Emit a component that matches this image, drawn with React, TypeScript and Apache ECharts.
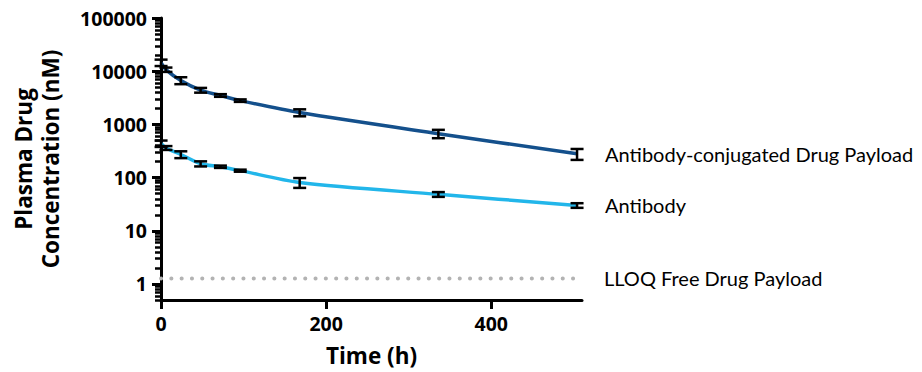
import React, { useEffect, useRef } from "react";
import * as echarts from "echarts";

// ---- data ----
const timeHours = [0.083, 6, 24, 48, 72, 96, 168, 336, 504];
const adcMean = [14500, 10700, 6700, 4400, 3500, 2800, 1670, 670, 280];
const adcSd = [2000, 1000, 1000, 450, 200, 150, 250, 120, 65];
const abMean = [437, 361, 272, 182, 160, 135, 81, 48.4, 30];
const abSd = [60, 30, 40, 20, 8, 6, 17, 5, 3];
const lloqValue = 1.27;

const seriesNames = ["Antibody-conjugated Drug Payload", "Antibody", "LLOQ Free Drug Payload"];
const xTickValues = [0, 200, 400];
const xRange = [0, 510];
const yMajorTicks = [1, 10, 100, 1000, 10000, 100000];
const yMinorMultipliers = [2, 3, 4, 5, 6, 7, 8, 9];
const yLowEndTicks = [0.5, 0.6, 0.7, 0.8, 0.9];
const yRange = [0.5, 100000];

const colors = { adc: "#14508c", ab: "#22b6ea", lloq: "#b3b3b3", axis: "#000000" };
const FONT = "Lato, 'Open Sans', sans-serif";
const BOLD_FONT = "'Open Sans', Lato, sans-serif";

const lg = (v: number) => Math.log10(v);

export default function App() {
  const ref = useRef<HTMLDivElement>(null);

  useEffect(() => {
    document.body.style.margin = "0";
    if (!ref.current) return;
    const chart = echarts.init(ref.current, undefined, { renderer: "svg" });

    const minorTicks: number[] = [...yLowEndTicks];
    yMajorTicks.slice(0, -1).forEach((d) => yMinorMultipliers.forEach((m) => minorTicks.push(d * m)));

    const lineData = (means: number[]) => timeHours.map((t, i) => [t, lg(means[i])]);
    const errData = (means: number[], sds: number[]) =>
      timeHours.map((t, i) => [t, lg(means[i] - sds[i]), lg(means[i] + sds[i])]);

    const errRender = (params: any, api: any) => {
      const x = api.value(0);
      const lo = api.coord([x, api.value(1)]);
      const hi = api.coord([x, api.value(2)]);
      const w = 6.5;
      const style = { stroke: "#000", lineWidth: 2.5, fill: "none" };
      return {
        type: "group",
        children: [
          { type: "line", shape: { x1: lo[0], y1: lo[1], x2: hi[0], y2: hi[1] }, style },
          { type: "line", shape: { x1: hi[0] - w, y1: hi[1], x2: hi[0] + w, y2: hi[1] }, style },
          { type: "line", shape: { x1: lo[0] - w, y1: lo[1], x2: lo[0] + w, y2: lo[1] }, style },
        ],
      };
    };

    const endLabel = (distance: number) => ({
      show: true,
      formatter: "{a}",
      distance,
      color: "#000",
      fontSize: 20,
      fontFamily: FONT,
      align: "left",
      verticalAlign: "middle",
    });

    const tickTextStyle = { color: "#000", fontSize: 19.5, fontWeight: "bold" as const, fontFamily: BOLD_FONT };
    const nameTextStyle = { color: "#000", fontSize: 22.5, fontWeight: "bold" as const, fontFamily: BOLD_FONT };

    chart.setOption({
      animation: false,
      grid: { left: 161, right: 340, top: 18, bottom: 71, containLabel: false },
      xAxis: {
        type: "value",
        min: xRange[0],
        max: xRange[1],
        name: "Time (h)",
        nameLocation: "middle",
        nameGap: 44,
        nameTextStyle: nameTextStyle,
        axisLine: { show: true, onZero: false, lineStyle: { color: colors.axis, width: 3 } },
        axisTick: { show: true, length: 9, customValues: xTickValues, lineStyle: { color: colors.axis, width: 3 } },
        axisLabel: { ...tickTextStyle, margin: 13, customValues: xTickValues },
        splitLine: { show: false },
      },
      yAxis: [
        {
          type: "value",
          min: lg(yRange[0]),
          max: lg(yRange[1]),
          name: "Plasma Drug\nConcentration (nM)",
          nameLocation: "middle",
          nameGap: 97,
          nameRotate: 90,
          nameTextStyle: { ...nameTextStyle, lineHeight: 27 },
          axisLine: { show: true, onZero: false, lineStyle: { color: colors.axis, width: 3 } },
          axisTick: {
            show: true,
            length: 9,
            customValues: yMajorTicks.map(lg),
            lineStyle: { color: colors.axis, width: 3 },
          },
          axisLabel: {
            ...tickTextStyle,
            margin: 14,
            customValues: yMajorTicks.map(lg),
            formatter: (v: number) => String(Math.round(Math.pow(10, v))),
          },
          splitLine: { show: false },
        },
        {
          type: "value",
          min: lg(yRange[0]),
          max: lg(yRange[1]),
          position: "left",
          axisLine: { show: false },
          axisTick: {
            show: true,
            length: 6,
            customValues: minorTicks.map(lg),
            lineStyle: { color: colors.axis, width: 2.5 },
          },
          axisLabel: { show: false },
          splitLine: { show: false },
        },
      ],
      series: [
        {
          name: seriesNames[2],
          type: "line",
          data: [
            [xRange[0], lg(lloqValue)],
            [xRange[1], lg(lloqValue)],
          ],
          showSymbol: false,
          symbol: "none",
          lineStyle: { color: colors.lloq, width: 4, type: [0.1, 10.2], cap: "round" },
          endLabel: endLabel(22),
          z: 1,
        },
        {
          name: seriesNames[0],
          type: "line",
          data: lineData(adcMean),
          smooth: 0.3,
          showSymbol: false,
          symbol: "none",
          lineStyle: { color: colors.adc, width: 3.5 },
          endLabel: endLabel(28),
          z: 2,
        },
        {
          name: seriesNames[1],
          type: "line",
          data: lineData(abMean),
          smooth: 0.3,
          showSymbol: false,
          symbol: "none",
          lineStyle: { color: colors.ab, width: 3.5 },
          endLabel: endLabel(28),
          z: 2,
        },
        {
          name: seriesNames[0] + " SD",
          type: "custom",
          renderItem: errRender,
          data: errData(adcMean, adcSd),
          encode: { x: 0, y: [1, 2] },
          z: 5,
        },
        {
          name: seriesNames[1] + " SD",
          type: "custom",
          renderItem: errRender,
          data: errData(abMean, abSd),
          encode: { x: 0, y: [1, 2] },
          z: 5,
        },
      ],
    });

    return () => chart.dispose();
  }, []);

  return <div ref={ref} style={{ width: 922, height: 372 }} />;
}
